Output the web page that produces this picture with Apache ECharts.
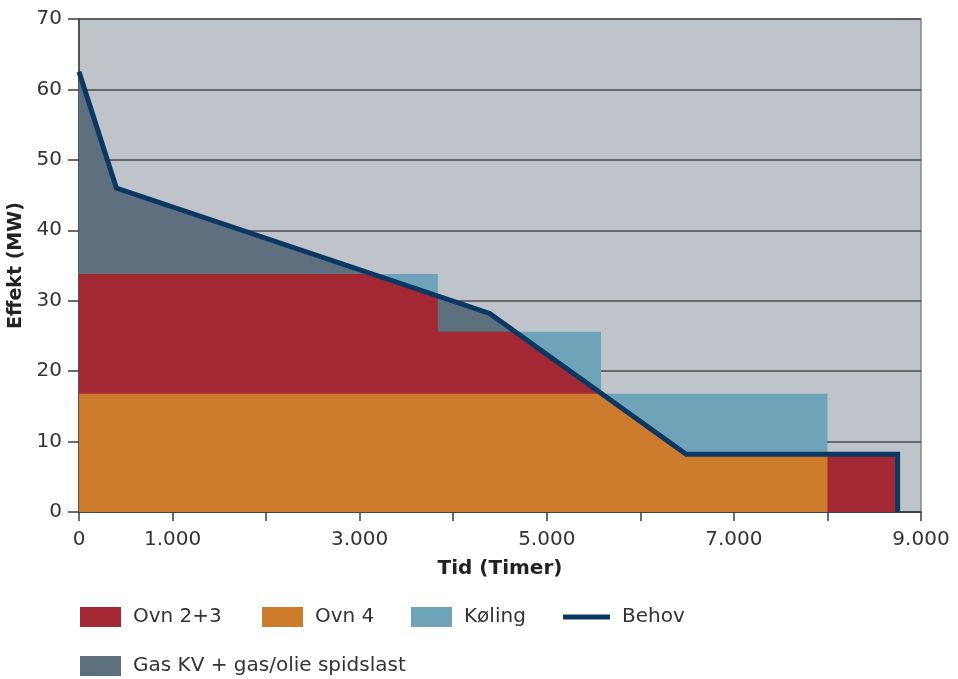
<!DOCTYPE html>
<html>
<head>
<meta charset="utf-8">
<script src="https://cdn.jsdelivr.net/npm/echarts@6/dist/echarts.min.js"></script>
<style>
  html, body { margin: 0; padding: 0; background: #ffffff; }
  #chart { width: 958px; height: 679px; }
</style>
</head>
<body>
<div id="chart"></div>
<script>
// Heat demand duration curve (Behov): hours of the year vs. MW
const behovHours = [0, 400, 4390, 6490, 8750, 8750];
const behovMW    = [62.5, 46.0, 28.2, 8.2, 8.2, 0];

// Production capacity as steps: segment edges (hours) and MW per segment
const stepEdges = [0, 3835, 5580, 8000, 8750];
const ovn4MW    = [16.8, 16.8, 16.8, 0];
const ovn23MW   = [17.0, 8.8, 0, 8.2];

// Labelled ticks on the hour axis
const xTickLabels = [0, 1000, 3000, 5000, 7000, 9000];

const COLORS = {
  plot: '#bec4c9',
  koeling: '#6fa3b7',
  gas: '#5e6f7e',
  ovn23: '#a22833',
  ovn4: '#cd7c2d',
  behov: '#0b3862',
  grid: '#4a4a4a',
  text: '#333333'
};
const FONT = 'DejaVu Sans';

// Demand value at a given hour (linear between points)
function demandAt(x) {
  for (let i = 0; i < behovHours.length - 1; i++) {
    const x0 = behovHours[i], x1 = behovHours[i + 1];
    if (x1 > x0 && x >= x0 && x <= x1) {
      return behovMW[i] + (behovMW[i + 1] - behovMW[i]) * (x - x0) / (x1 - x0);
    }
  }
  return 0;
}

// Demand curve capped by a step ceiling: min(demand, level) per segment
function demandCappedBy(levels) {
  const pts = [];
  for (let s = 0; s < levels.length; s++) {
    const a = stepEdges[s], b = stepEdges[s + 1], L = levels[s];
    const xs = [a, ...behovHours.filter(h => h > a && h < b), b];
    for (let i = 0; i < xs.length; i++) {
      const x = xs[i], y = demandAt(x);
      if (i > 0) {
        const px = xs[i - 1], py = demandAt(px);
        if ((py - L) * (y - L) < 0) {
          const t = (L - py) / (y - py);
          pts.push([px + t * (x - px), L]);
        }
      }
      pts.push([x, Math.min(y, L)]);
    }
  }
  pts.push([stepEdges[stepEdges.length - 1], 0]);
  return pts;
}

// Step outline of a capacity profile
function stepOutline(levels) {
  const pts = [];
  levels.forEach((L, s) => {
    pts.push([stepEdges[s], L], [stepEdges[s + 1], L]);
  });
  pts.push([stepEdges[stepEdges.length - 1], 0]);
  return pts;
}

const totalCapacity = ovn4MW.map((v, i) => v + ovn23MW[i]);
const demandPts = behovHours.map((h, i) => [h, behovMW[i]]);

function areaSeries(name, color, data) {
  return {
    name, type: 'line', data,
    symbol: 'none', showSymbol: false, silent: true,
    lineStyle: { width: 0, color },
    itemStyle: { color },
    areaStyle: { color, opacity: 1 },
    animation: false
  };
}

function fmtThousands(v) {
  return String(v).replace(/\B(?=(\d{3})+(?!\d))/g, '.');
}

const legendBase = {
  orient: 'horizontal', padding: 0, itemWidth: 41, itemHeight: 20,
  selectedMode: false,
  textStyle: { fontFamily: FONT, fontSize: 20, color: COLORS.text, padding: [0, 0, 0, 7] }
};

const chart = echarts.init(document.getElementById('chart'), null, { renderer: 'canvas' });
chart.setOption({
  animation: false,
  backgroundColor: '#ffffff',
  grid: {
    left: 79, right: 37, top: 19, bottom: 167,
    outerBoundsMode: 'none',
    show: true, backgroundColor: COLORS.plot,
    borderColor: '#858585', borderWidth: 1.5
  },
  xAxis: {
    type: 'value', min: 0, max: 9000, interval: 1000,
    name: 'Tid (Timer)', nameLocation: 'middle', nameGap: 47,
    nameTextStyle: { fontFamily: FONT, fontSize: 20, fontWeight: 'bold', color: '#222' },
    axisLine: { show: true, lineStyle: { color: '#3c3c3c', width: 1.5 } },
    axisTick: { show: true, length: 9, lineStyle: { color: '#3c3c3c', width: 1.5 } },
    axisLabel: {
      margin: 18, fontFamily: FONT, fontSize: 20, color: COLORS.text,
      formatter: v => xTickLabels.includes(v) ? fmtThousands(v) : ''
    },
    splitLine: { show: false }
  },
  yAxis: {
    type: 'value', min: 0, max: 70, interval: 10,
    name: 'Effekt (MW)', nameLocation: 'middle', nameGap: 44, nameRotate: 90,
    nameTextStyle: { fontFamily: FONT, fontSize: 19, fontWeight: 'bold', color: '#222' },
    axisLine: { show: true, lineStyle: { color: '#3c3c3c', width: 1.5 } },
    axisTick: { show: true, length: 11, lineStyle: { color: '#3c3c3c', width: 1.5 } },
    axisLabel: { margin: 17, fontFamily: FONT, fontSize: 20, color: COLORS.text },
    splitLine: { show: true, lineStyle: { color: COLORS.grid, width: 1.5 } }
  },
  legend: [
    Object.assign({}, legendBase, { left: 80, top: 607, data: [{ name: 'Ovn 2+3', icon: 'rect' }] }),
    Object.assign({}, legendBase, { left: 262, top: 607, data: [{ name: 'Ovn 4', icon: 'rect' }] }),
    Object.assign({}, legendBase, { left: 411, top: 607, data: [{ name: 'Køling', icon: 'rect' }] }),
    Object.assign({}, legendBase, { left: 563, top: 607, itemWidth: 47,
      data: [{ name: 'Behov', icon: 'path://M0,0H47V5H0Z' }] }),
    Object.assign({}, legendBase, { left: 80, top: 656, data: [{ name: 'Gas KV + gas/olie spidslast', icon: 'rect' }] })
  ],
  series: [
    // capacity above demand shows as cooling
    areaSeries('Køling', COLORS.koeling, stepOutline(totalCapacity)),
    // demand above capacity shows as peak load
    areaSeries('Gas KV + gas/olie spidslast', COLORS.gas, demandPts),
    areaSeries('Ovn 2+3', COLORS.ovn23, demandCappedBy(totalCapacity)),
    areaSeries('Ovn 4', COLORS.ovn4, demandCappedBy(ovn4MW)),
    {
      name: 'Behov', type: 'line', data: demandPts,
      symbol: 'none', showSymbol: false, silent: true,
      lineStyle: { width: 5, color: COLORS.behov, join: 'miter' },
      itemStyle: { color: COLORS.behov },
      clip: false,
      animation: false
    }
  ]
});
</script>
</body>
</html>
